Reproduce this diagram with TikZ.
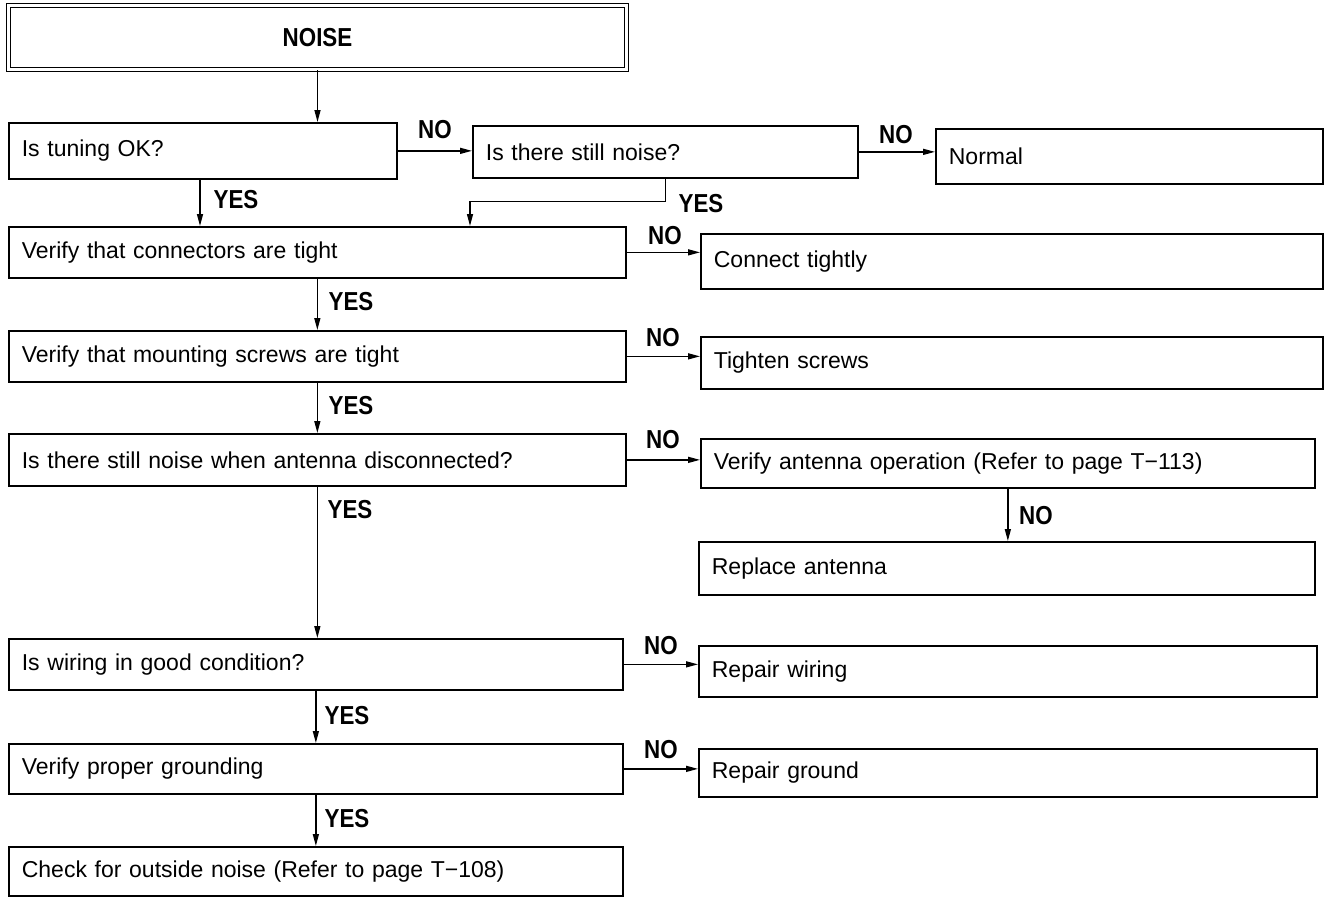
\documentclass[tikz,border=0pt]{standalone}
\usepackage{fontspec}
\setmainfont{Liberation Sans}
\newfontfamily\lblfont[FakeStretch=0.86]{Liberation Sans Bold}
\usetikzlibrary{arrows.meta,calc}
\begin{document}
\begin{tikzpicture}[x=1pt,y=-1pt,
  box/.style={draw, line width=1.7pt, anchor=north west, align=left, inner xsep=13pt, inner ysep=0pt,
    font=\fontsize{23}{27}\selectfont},
  lbl/.style={font=\lblfont\fontsize{26}{28}\selectfont, inner sep=0pt},
  arr/.style={line width=1.4pt, -{Triangle[length=12pt,width=6pt]}}]
\useasboundingbox (0,0) rectangle (1329,897);
% title
\node[draw, double, double distance=2.5pt, line width=1.3pt, minimum width=618pt, minimum height=64pt,
  inner sep=0pt, font=\lblfont\fontsize{26}{28}\selectfont] (noise) at (317.5,37.5) {NOISE};
% boxes
\node[box, text width=362pt, minimum height=56pt] (tuning) at (8,122) {Is tuning OK?};
\node[box, text width=359pt, minimum height=52pt] (still) at (472,125) {Is there still noise?};
\node[box, text width=361pt, minimum height=55pt] (normal) at (935,128) {Normal};
\node[box, text width=591pt, minimum height=51pt] (conn) at (8,226) {Verify that connectors are tight};
\node[box, text width=596pt, minimum height=55pt] (tight) at (700,233) {Connect tightly};
\node[box, text width=591pt, minimum height=51pt] (screws) at (8,330) {Verify that mounting screws are tight};
\node[box, text width=596pt, minimum height=52pt] (tscrews) at (700,336) {Tighten screws};
\node[box, text width=591pt, minimum height=52pt] (ant) at (8,433) {Is there still noise when antenna disconnected?};
\node[box, text width=588pt, minimum height=49pt] (vant) at (700,438) {Verify antenna operation (Refer to page T\textminus 113)};
\node[box, text width=590pt, minimum height=53pt] (rant) at (698,541) {Replace antenna};
\node[box, text width=588pt, minimum height=51pt] (wiring) at (8,638) {Is wiring in good condition?};
\node[box, text width=592pt, minimum height=51pt] (rwiring) at (698,645) {Repair wiring};
\node[box, text width=588pt, minimum height=50pt] (ground) at (8,743) {Verify proper grounding};
\node[box, text width=592pt, minimum height=48pt] (rground) at (698,748) {Repair ground};
\node[box, text width=588pt, minimum height=49pt] (check) at (8,846) {Check for outside noise (Refer to page T\textminus 108)};
% connectors
\draw[arr] (noise.south) -- (noise.south |- tuning.north);
\draw[arr] (tuning.east) -- (tuning.east -| still.west);
\draw[arr] (still.east) -- (still.east -| normal.west);
\draw[arr] (still.south) -- ++(0,23) -| ([xshift=462pt]conn.north west);
\draw[arr] ([xshift=192pt]tuning.south west) -- ([xshift=192pt]conn.north west);
\draw[arr] (conn.east) -- (conn.east -| tight.west);
\draw[arr] (conn.south) -- (screws.north);
\draw[arr] (screws.east) -- (screws.east -| tscrews.west);
\draw[arr] (screws.south) -- (ant.north);
\draw[arr] (ant.east) -- (ant.east -| vant.west);
\draw[arr] (ant.south) -- (ant.south |- wiring.north);
\draw[arr] (vant.south) -- (vant.south |- rant.north);
\draw[arr] (wiring.east) -- (wiring.east -| rwiring.west);
\draw[arr] (wiring.south) -- (ground.north);
\draw[arr] (ground.east) -- (ground.east -| rground.west);
\draw[arr] (ground.south) -- (check.north);
% labels
\node[lbl] (l1) at (435,130) {NO};
\node[lbl] (l2) at (896,135) {NO};
\node[lbl] (l3) at (701,204) {YES};
\node[lbl] (l4) at (236,200) {YES};
\node[lbl] (l5) at (665,236) {NO};
\node[lbl] (l6) at (351,302) {YES};
\node[lbl] (l7) at (663,338) {NO};
\node[lbl] (l8) at (351,406) {YES};
\node[lbl] (l9) at (663,440) {NO};
\node[lbl] (l10) at (350,510) {YES};
\node[lbl] (l11) at (1036,516) {NO};
\node[lbl] (l12) at (661,646) {NO};
\node[lbl] (l13) at (347,716) {YES};
\node[lbl] (l14) at (661,750) {NO};
\node[lbl] (l15) at (347,819) {YES};
\end{tikzpicture}
\end{document}
